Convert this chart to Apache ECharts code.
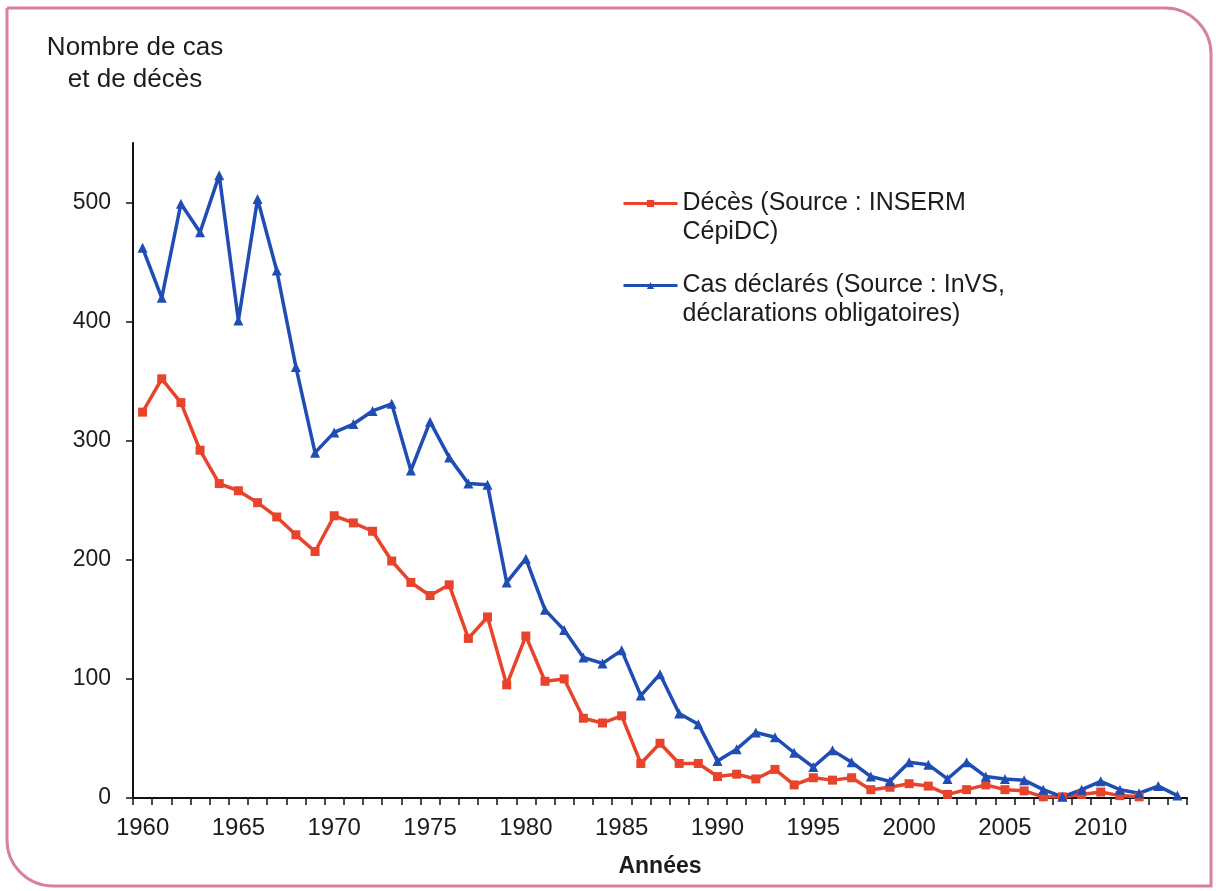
<!DOCTYPE html>
<html lang="fr">
<head>
  <meta charset="UTF-8">
  <title>Nombre de cas et de décès</title>
  <style>
    * { margin: 0; padding: 0; }
    body { background: #ffffff; }
    #chart { width: 1216px; height: 891px; }
  </style>
</head>
<body>
  <div id="chart"></div>

  <script src="https://cdn.jsdelivr.net/npm/echarts@6/dist/echarts.min.js"></script>
  <script type="text/javascript">
  // années 1960 - 2014
  var annees = [
    '1960', '1961', '1962', '1963', '1964', '1965', '1966', '1967', '1968', '1969',
    '1970', '1971', '1972', '1973', '1974', '1975', '1976', '1977', '1978', '1979',
    '1980', '1981', '1982', '1983', '1984', '1985', '1986', '1987', '1988', '1989',
    '1990', '1991', '1992', '1993', '1994', '1995', '1996', '1997', '1998', '1999',
    '2000', '2001', '2002', '2003', '2004', '2005', '2006', '2007', '2008', '2009',
    '2010', '2011', '2012', '2013', '2014'
  ];

  // Décès (INSERM CépiDC), pas de données après 2012
  var deces = [
    324, 352, 332, 292, 264, 258, 248, 236, 221, 207,
    237, 231, 224, 199, 181, 170, 179, 134, 152, 95,
    136, 98, 100, 67, 63, 69, 29, 46, 29, 29,
    18, 20, 16, 24, 11, 17, 15, 17, 7, 9,
    12, 10, 3, 7, 11, 7, 6, 1, 1, 3,
    5, 2, 1, null, null
  ];

  // Cas déclarés (InVS)
  var casDeclares = [
    462, 420, 499, 475, 523, 401, 503, 443, 362, 290,
    307, 314, 325, 331, 275, 316, 286, 264, 263, 181,
    201, 158, 141, 118, 113, 124, 86, 104, 71, 62,
    31, 41, 55, 51, 38, 26, 40, 30, 18, 14,
    30, 28, 16, 30, 18, 16, 15, 7, 1, 7,
    14, 7, 4, 10, 2
  ];

  var yTicks = [0, 100, 200, 300, 400, 500];

  var nomDeces = 'Décès (Source : INSERM\nCépiDC)';
  var nomCas = 'Cas déclarés (Source : InVS,\ndéclarations obligatoires)';

  // police étroite pour les années si elle existe
  function hasNarrow () {
    var ctx = document.createElement('canvas').getContext('2d');
    ctx.font = '40px "Liberation Sans Narrow", monospace';
    var a = ctx.measureText('19601965').width;
    ctx.font = '40px monospace';
    var b = ctx.measureText('19601965').width;
    return a !== b;
  }

  function main () {
    var chart = echarts.init(document.getElementById('chart'));
    var font = '"Liberation Sans", Arial, sans-serif';
    var narrow = hasNarrow();
    var xFont = narrow ? '"Liberation Sans Narrow", "Liberation Sans", sans-serif' : font;
    var xSize = narrow ? 27 : 24;

    var option = {
      backgroundColor: '#ffffff',
      animation: false,
      textStyle: { fontFamily: font },
      title: {
        text: 'Nombre de cas\net de décès',
        left: 130,
        top: 27,
        textAlign: 'center',
        textStyle: { fontFamily: font, fontSize: 26, fontWeight: 'normal', color: '#1c1c1c', lineHeight: 32 }
      },
      legend: {
        orient: 'vertical',
        left: 622,
        top: 160,
        padding: 0,
        itemGap: -5,
        itemWidth: 54,
        itemHeight: 9,
        data: [nomDeces, nomCas],
        formatter: function (name) { return ' \n' + name; },
        lineStyle: { width: 3 },
        textStyle: { fontFamily: font, fontSize: 25, color: '#1c1c1c', lineHeight: 29 }
      },
      grid: { left: 133, right: 29, top: 143, bottom: 93 },
      xAxis: {
        type: 'category',
        data: annees,
        boundaryGap: true,
        name: 'Années',
        nameLocation: 'middle',
        nameGap: 57,
        nameTextStyle: { fontFamily: font, fontSize: 23, fontWeight: 'bold', color: '#1c1c1c' },
        axisLine: { lineStyle: { color: '#111111', width: 2 } },
        axisTick: { show: true, interval: 0, length: 7, lineStyle: { color: '#111111', width: 1.5 } },
        axisLabel: { interval: 4, margin: 18, fontFamily: xFont, fontSize: xSize, color: '#1c1c1c' },
        splitLine: { show: false }
      },
      yAxis: {
        type: 'value',
        min: 0,
        max: 550,
        interval: 100,
        axisLine: { show: true, lineStyle: { color: '#111111', width: 2 } },
        axisTick: { show: true, length: 7, customValues: yTicks, lineStyle: { color: '#111111', width: 1.5 } },
        axisLabel: { customValues: yTicks, margin: 22, fontSize: 23, color: '#1c1c1c' },
        splitLine: { show: false }
      },
      graphic: [{
        type: 'rect',
        silent: true,
        shape: { x: 7, y: 8, width: 1204, height: 878, r: [0, 46, 0, 46] },
        style: { fill: 'none', stroke: '#d77fa4', lineWidth: 3 },
        z: -1
      }],
      series: [{
        name: nomDeces,
        type: 'line',
        data: deces,
        symbol: 'rect',
        symbolSize: 9,
        color: '#e8432b',
        lineStyle: { width: 3.5, color: '#e8432b' },
        itemStyle: { color: '#e8432b' }
      }, {
        name: nomCas,
        type: 'line',
        data: casDeclares,
        symbol: 'triangle',
        symbolSize: 10,
        color: '#1f4db3',
        lineStyle: { width: 3.5, color: '#1f4db3' },
        itemStyle: { color: '#1f4db3' }
      }]
    };
    chart.setOption(option);
  }

  window.addEventListener('load', main);
  </script>
</body>
</html>
